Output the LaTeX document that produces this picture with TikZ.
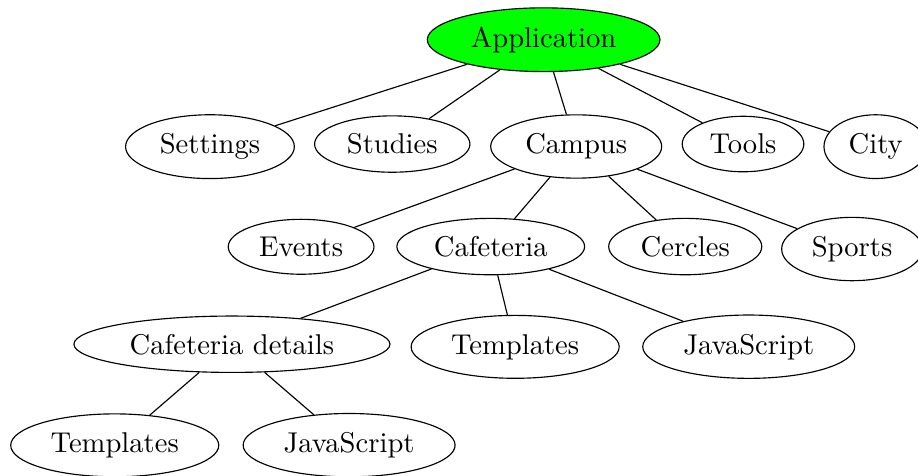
\documentclass[tikz,border=0pt]{standalone}
\usetikzlibrary{shapes.geometric}

\tikzset{
    item/.style = {ellipse, draw, anchor=base},
    root/.style = {item, fill=green},
}

\begin{document}
\begin{tikzpicture}[scale=1,transform shape]
    \useasboundingbox (0,0) rectangle (11.28,5.84);
    % % ----- root ----- % %
    \node [root] (app) at (6.68,5.26) {Application};		% level 0
    % % ----- first level ----- % %
    \node [item] (settings) at (2.58,3.95) {Settings};
    \node [item] (studies) at (4.82,3.95) {Studies};
    \node [item] (campus) at (7.08,3.95) {Campus};
    \node [item] (tools) at (9.13,3.95) {Tools};
    \node [item] (city) at (10.76,3.95) {City};
    % % ----- campus ----- % %
    \node [item] (events) at (3.70,2.69) {Events};
    \node [item] (cafeteria) at (6.03,2.69) {Cafeteria};
    \node [item] (cercles) at (8.42,2.69) {Cercles};
    \node [item] (sports) at (10.47,2.69) {Sports};
    % % ----- cafeteria ----- % %
    \node [item] (details) at (2.85,1.49) {Cafeteria details};
    \node [item] (caftpl) at (6.33,1.49) {Templates};
    \node [item] (cafjs) at (9.20,1.49) {JavaScript};
    % % ----- cafeteria details ----- % %
    \node [item] (dettpl) at (1.41,0.28) {Templates};
    \node [item] (detjs) at (4.29,0.28) {JavaScript};
    % % ----- edges ----- % %
    \foreach \child in {settings,studies,campus,tools,city}
        \draw (app) -- (\child);				% app - first level
    \foreach \child in {events,cafeteria,cercles,sports}
        \draw (campus) -- (\child);			% campus
    \foreach \child in {details,caftpl,cafjs}
        \draw (cafeteria) -- (\child);			% cafeteria
    \draw (details) -- (dettpl);
    \draw (details) -- (detjs);
\end{tikzpicture}
\end{document}
